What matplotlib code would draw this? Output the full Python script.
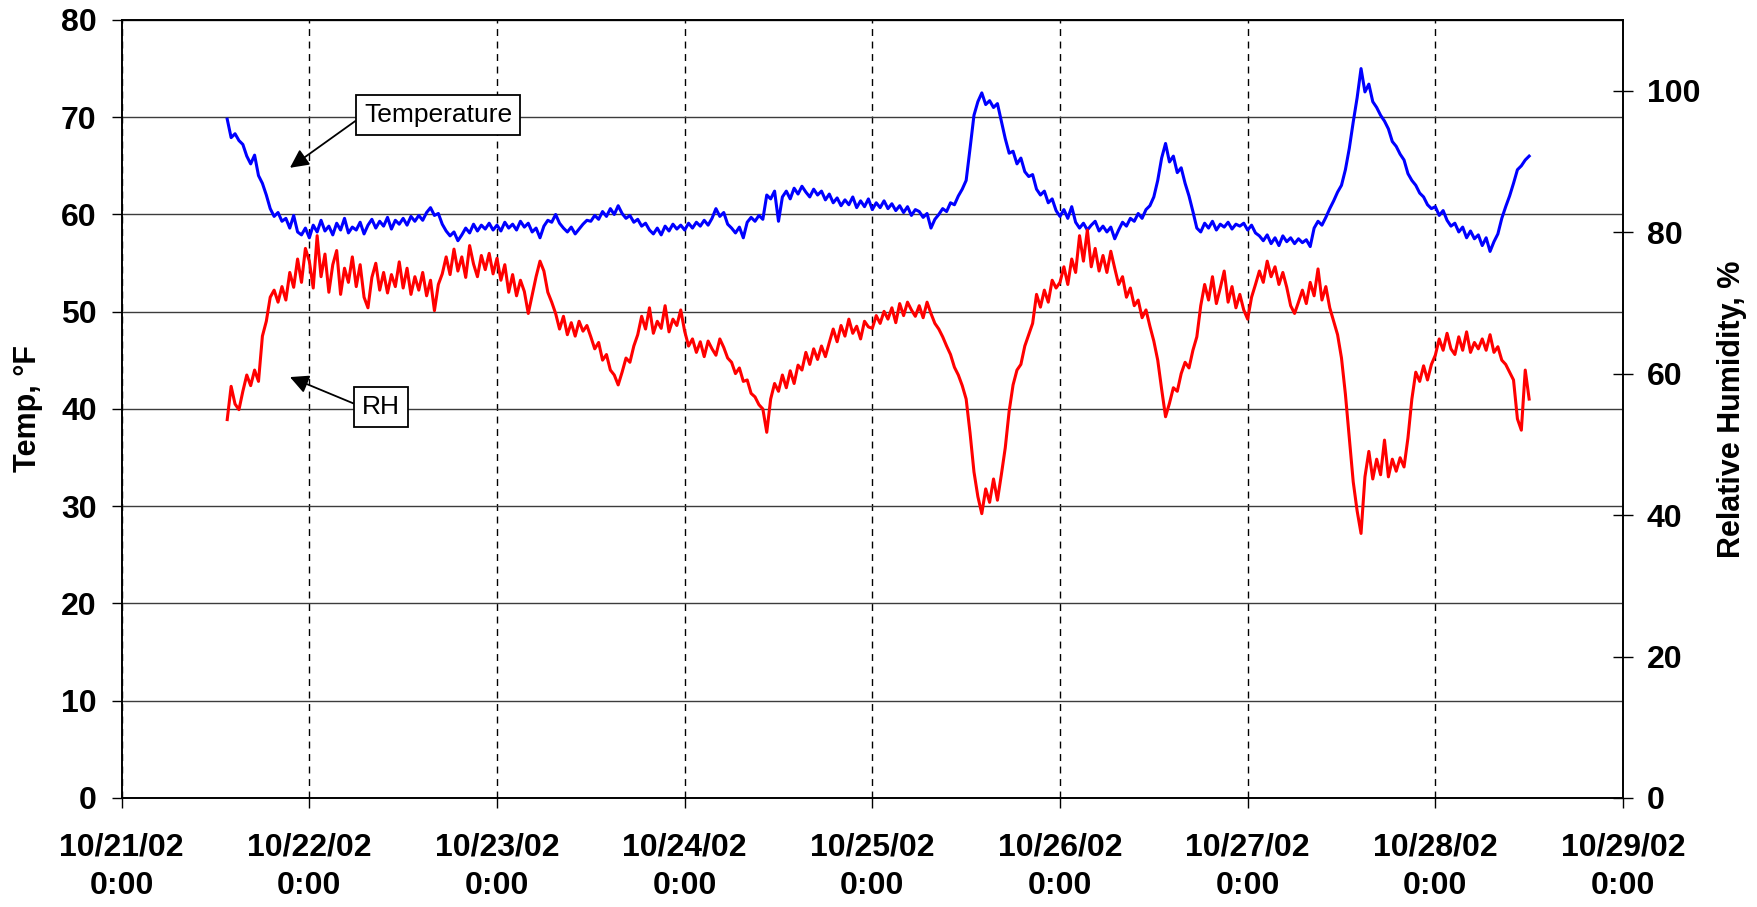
import numpy as np
import matplotlib
matplotlib.use('Agg')
import matplotlib.pyplot as plt
import matplotlib.dates as mdates

plt.rcParams['font.family'] = ['Liberation Sans', 'DejaVu Sans']
plt.rcParams['font.weight'] = 'bold'

# readings every 30 minutes, first one at 10/21/02 13:30
start_time = '2002-10-21T13:30'
step_minutes = 30

# temperature, deg F
temp_f = [
    69.8, 67.9, 68.3, 67.6, 67.2, 66.0, 65.2, 66.1, 64.0,
    63.2, 62.0, 60.6, 59.8, 60.2, 59.3, 59.6, 58.6, 59.9, 58.2, 57.9, 58.6,
    57.6, 58.9, 58.2, 59.4, 58.3, 58.8, 57.9, 59.1, 58.4, 59.6, 58.1, 58.7,
    58.4, 59.2, 58.0, 58.9, 59.5, 58.6, 59.3, 58.8, 59.7, 58.5, 59.4, 59.0,
    59.6, 58.9, 59.8, 59.3, 59.9, 59.4, 60.2, 60.7, 59.9, 60.1, 59.0, 58.3,
    57.8, 58.2, 57.3, 57.9, 58.6, 58.1, 59.0, 58.3, 58.9, 58.5, 59.1, 58.4,
    58.9, 58.3, 59.2, 58.6, 59.0, 58.4, 59.3, 58.7, 59.1, 58.2, 58.6, 57.6,
    58.8, 59.4, 59.2, 60.0, 59.1, 58.6, 58.2, 58.7, 58.0, 58.5, 59.0, 59.4,
    59.3, 59.9, 59.5, 60.3, 59.8, 60.6, 60.0, 60.9, 60.1, 59.6, 59.9, 59.2,
    59.5, 58.8, 59.1, 58.4, 58.0, 58.6, 57.9, 58.8, 58.3, 59.0, 58.5, 58.9,
    58.4, 59.1, 58.6, 59.2, 58.8, 59.4, 58.9, 59.6, 60.6, 59.8, 60.2, 59.0,
    58.6, 58.1, 58.7, 57.6, 59.2, 59.7, 59.3, 59.9, 59.5, 62.0, 61.6, 62.4,
    59.3, 61.8, 62.4, 61.6, 62.7, 62.1, 62.9, 62.3, 61.8, 62.6, 62.0, 62.4,
    61.5, 62.1, 61.2, 61.7, 60.9, 61.5, 61.0, 61.8, 60.7, 61.4, 60.8, 61.6,
    60.5, 61.2, 60.7, 61.4, 60.6, 61.1, 60.4, 60.9, 60.2, 60.8, 59.9, 60.5,
    60.3, 59.7, 60.1, 58.6, 59.5, 60.0, 60.6, 60.3, 61.2, 61.0, 61.9, 62.6,
    63.5, 66.8, 70.2, 71.6, 72.5, 71.3, 71.7, 71.0, 71.4, 69.6, 67.8, 66.3,
    66.5, 65.2, 65.8, 64.4, 63.9, 64.1, 62.6, 62.0, 62.4, 61.2, 61.6, 60.4,
    59.8, 60.5, 59.6, 60.8, 59.2, 58.6, 59.1, 58.4, 58.9, 59.3, 58.3, 58.8,
    58.2, 58.7, 57.5, 58.4, 59.2, 58.8, 59.6, 59.3, 60.1, 59.6, 60.5, 60.9,
    61.8, 63.5, 65.8, 67.3, 65.4, 66.0, 64.3, 64.8, 63.2, 61.9, 60.3, 58.6,
    58.2, 59.1, 58.6, 59.3, 58.4, 59.0, 58.7, 59.2, 58.5, 59.0, 58.8, 59.1,
    58.4, 58.9, 58.1, 57.8, 57.3, 57.9, 57.0, 57.6, 56.8, 57.8, 57.2, 57.6,
    57.0, 57.5, 57.1, 57.4, 56.7, 58.6, 59.3, 58.9, 59.7, 60.6, 61.4, 62.3,
    63.0, 64.6, 66.8, 69.5, 72.0, 75.0, 72.6, 73.4, 71.6, 71.0, 70.2, 69.6,
    68.8, 67.5, 67.0, 66.2, 65.6, 64.2, 63.5, 63.0, 62.2, 61.8, 61.0, 60.6,
    60.8, 59.9, 60.4, 59.4, 58.8, 59.1, 58.2, 58.7, 57.6, 58.3, 57.5, 57.9,
    56.8, 57.6, 56.2, 57.2, 58.0, 59.6, 60.8, 61.9, 63.2, 64.6, 65.0, 65.6,
    66.0,
]

# relative humidity, %
rh_pct = [
    53.5, 58.2, 55.7, 54.9, 57.5, 59.8, 58.3, 60.5, 58.9,
    65.3, 67.4, 70.8, 71.8, 70.1, 72.3, 70.4, 74.3, 72.2, 76.2, 72.9, 77.7,
    75.9, 72.1, 79.5, 73.7, 76.9, 71.5, 75.4, 77.4, 71.2, 74.9, 72.9, 76.5,
    72.3, 75.4, 70.8, 69.3, 73.6, 75.6, 71.8, 74.3, 71.4, 74.0, 72.3, 75.8,
    72.1, 74.9, 71.2, 73.7, 71.8, 74.3, 71.0, 73.2, 68.9, 72.6, 74.1, 76.5,
    74.0, 77.6, 74.5, 76.5, 73.6, 78.1, 75.5, 73.7, 76.7, 74.7, 77.0, 74.1,
    76.3, 73.2, 75.4, 71.5, 74.0, 71.0, 73.2, 71.6, 68.5, 71.1, 73.7, 75.9,
    74.5, 71.5, 70.1, 68.5, 66.3, 68.1, 65.5, 67.2, 65.3, 67.4, 66.0, 66.8,
    65.2, 63.5, 64.4, 61.9, 62.7, 60.5, 59.8, 58.4, 60.2, 62.2, 61.6, 63.9,
    65.5, 68.1, 66.3, 69.3, 65.7, 67.4, 66.4, 69.6, 65.9, 67.7, 66.8, 69.0,
    66.0, 63.9, 64.9, 63.0, 64.5, 62.4, 64.6, 63.5, 62.6, 64.9, 63.7, 62.2,
    61.6, 60.0, 60.8, 58.9, 59.1, 57.2, 56.7, 55.6, 55.0, 51.7, 56.4, 58.6,
    57.5, 59.8, 58.0, 60.4, 58.6, 61.2, 60.5, 63.0, 61.3, 63.5, 62.0, 63.9,
    62.4, 64.4, 66.3, 64.5, 66.8, 65.3, 67.7, 65.7, 66.7, 64.9, 67.4, 66.6,
    66.4, 68.2, 67.1, 68.8, 67.7, 69.3, 67.2, 69.9, 68.2, 70.1, 69.0, 68.1,
    69.6, 67.9, 70.1, 68.5, 67.1, 66.3, 65.2, 63.9, 62.7, 60.9, 59.8, 58.3,
    56.4, 51.6, 46.1, 42.6, 40.2, 43.7, 41.8, 45.1, 42.1, 45.7, 49.5, 54.7,
    58.4, 60.5, 61.3, 63.9, 65.5, 67.1, 71.2, 69.4, 71.8, 70.1, 73.2, 72.1,
    72.9, 75.1, 72.6, 76.2, 74.3, 79.5, 75.9, 80.3, 75.1, 77.7, 74.5, 76.7,
    74.3, 77.3, 74.9, 72.6, 73.7, 70.8, 72.1, 69.6, 70.4, 67.9, 69.0, 66.7,
    64.6, 61.9, 57.8, 53.9, 55.8, 58.0, 57.5, 60.0, 61.6, 60.8, 63.3, 65.2,
    69.6, 72.6, 70.4, 73.7, 69.9, 72.1, 74.5, 70.1, 72.3, 69.3, 71.2, 69.0,
    67.7, 70.8, 72.6, 74.5, 72.9, 75.9, 73.7, 75.1, 72.6, 74.3, 72.2, 69.6,
    68.5, 70.1, 71.8, 69.9, 72.9, 71.0, 74.8, 70.4, 72.3, 69.3, 67.4, 65.5,
    62.2, 57.1, 50.9, 44.7, 40.6, 37.4, 45.4, 49.0, 45.1, 47.9, 45.7, 50.6,
    45.4, 47.9, 46.2, 48.1, 46.8, 50.9, 56.4, 60.2, 58.9, 61.1, 59.1, 61.3,
    62.6, 64.9, 63.3, 65.7, 63.5, 62.7, 65.2, 63.3, 65.9, 63.0, 64.4, 63.5,
    64.9, 63.3, 65.5, 63.0, 63.8, 61.9, 61.3, 60.2, 59.1, 53.6, 52.0, 60.5,
    56.4,
]

times = np.datetime64(start_time) + np.arange(len(temp_f)) * np.timedelta64(step_minutes, 'm')

fig = plt.figure(figsize=(17.58, 9.07), dpi=100)
ax = fig.add_axes([0.0692, 0.1202, 0.8540, 0.8578])

ax.plot(times, temp_f, color='#0000ff', lw=2.2)
ax.set_ylim(0, 80)
ax.set_yticks(np.arange(0, 81, 10))
ax.set_xlim(np.datetime64('2002-10-21T00:00'), np.datetime64('2002-10-29T00:00'))
ax.xaxis.set_major_locator(mdates.DayLocator())
ax.xaxis.set_major_formatter(mdates.DateFormatter('%m/%d/%y\n%-H:%M'))

ax.yaxis.grid(True, color='#3c3c3c', lw=1)
ax.xaxis.grid(True, color='black', lw=1, linestyle=(0, (5, 4)))
ax.set_axisbelow(True)

ax.tick_params(axis='x', direction='out', length=7, width=1, pad=18, labelsize=23)
ax.tick_params(axis='y', direction='out', length=7, width=1, pad=11, labelsize=23)
for t in ax.xaxis.get_major_ticks():
    t.label1.set_linespacing(1.35)
ax.set_ylabel('Temp, °F', fontsize=22, fontweight='bold', labelpad=13)

ax2 = ax.twinx()
ax2.plot(times, rh_pct, color='#ff0000', lw=2.2)
ax2.set_ylim(0, 110)
ax2.set_yticks(np.arange(0, 101, 20))
ax2.tick_params(axis='y', direction='inout', length=14, width=1, pad=10, labelsize=23)
ax2.set_ylabel('Relative Humidity, %', fontsize=22, fontweight='bold', labelpad=12)

for a in (ax, ax2):
    for s in a.spines.values():
        s.set_linewidth(1.2)
        s.set_color('black')

box = dict(boxstyle='square,pad=0.3', fc='white', ec='black', lw=1.3)
arrow = dict(arrowstyle='-|>', color='black', lw=1.3, mutation_scale=28,
             shrinkA=0, shrinkB=0, relpos=(0, 0.5))
ax2.annotate('Temperature', xy=(0.1121, 0.810), xycoords='axes fraction',
             xytext=(0.2107, 0.878), textcoords='axes fraction',
             ha='center', va='center', fontsize=19, fontweight='normal',
             bbox=box, arrowprops=arrow)
ax2.annotate('RH', xy=(0.1121, 0.541), xycoords='axes fraction',
             xytext=(0.1727, 0.5026), textcoords='axes fraction',
             ha='center', va='center', fontsize=19, fontweight='normal',
             bbox=box, arrowprops=arrow)

fig.savefig('out.png', dpi=100)
